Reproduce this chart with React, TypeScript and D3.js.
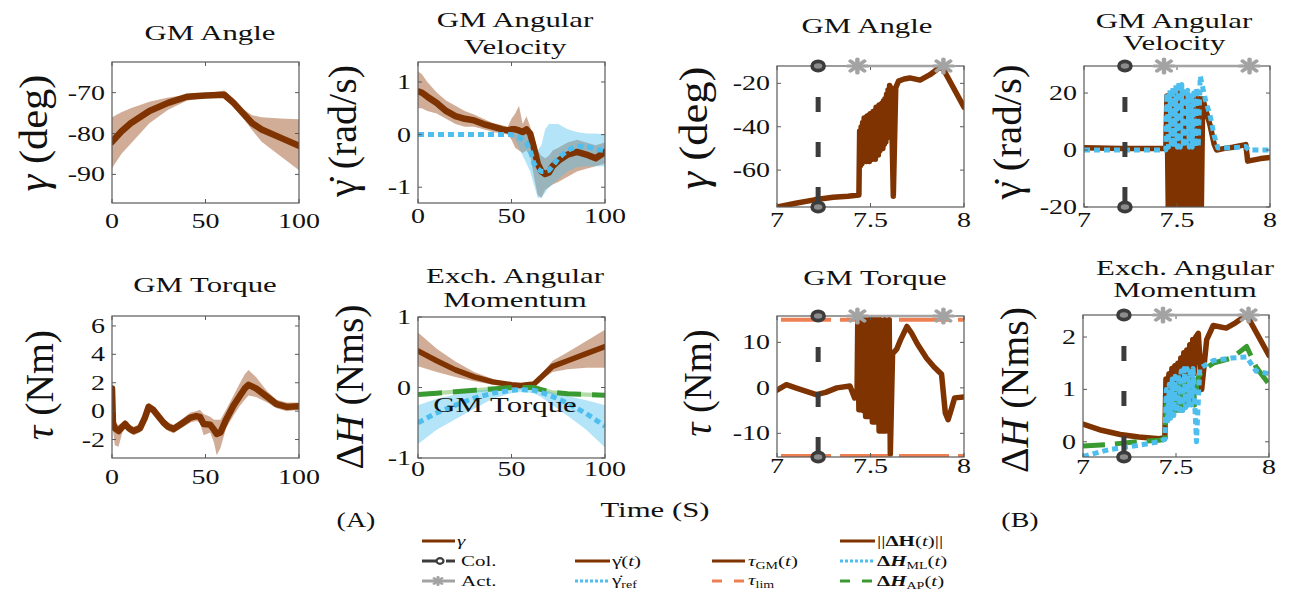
import React from 'react';
import * as d3 from 'd3';

const FONT = '"Liberation Serif", "Times New Roman", serif';
const SX = 1.4; // the figure is stretched horizontally
const BROWN = '#7f3300';
const BAND_BROWN = '#9a4a18';
const BLUE = '#4dbeee';
const GREEN = '#3a9a32';
const PALE_GREEN = '#b3dca6';
const ORANGE = '#ee7f52';
const DARK = '#3c3c3c';
const GRAY = '#a3a3a3';
const GDOT = 'γ\u0307';

// ---------- (A) normalised cycle, 0..100 % ----------
const angX = [0, 5, 10, 20, 30, 40, 50, 60, 65, 70, 75, 80, 90, 100];
const angMean = [-82, -79.5, -77.5, -74.5, -72.5, -71, -70.7, -70.5, -72.5, -75, -77.5, -79, -81, -83];
const angHi = [-76, -74.8, -73.8, -72.2, -71.2, -70.5, -70.2, -69.5, -71.5, -74, -75.5, -76, -76.3, -76.5];
const angLo = [-88.5, -85, -82.5, -77.5, -74.2, -72, -71.2, -71.3, -73.5, -76.2, -79.2, -82, -85.5, -89];

const velX = [0, 2, 5, 10, 15, 20, 25, 30, 35, 40, 45, 48, 50, 52, 54, 56, 58, 60, 62, 64, 66, 68, 70, 72, 75, 80, 85, 90, 95, 100];
const velMean = [0.82, 0.8, 0.72, 0.6, 0.45, 0.35, 0.3, 0.27, 0.2, 0.15, 0.1, 0.08, 0.1, 0.1, 0.08, 0.05, 0.1, 0.02, -0.25, -0.55, -0.7, -0.75, -0.72, -0.6, -0.5, -0.38, -0.33, -0.38, -0.45, -0.33];
const velHi = [1.2, 1.15, 1.0, 0.8, 0.65, 0.55, 0.45, 0.38, 0.3, 0.22, 0.18, 0.15, 0.3, 0.4, 0.55, 0.2, 0.35, 0.15, -0.1, -0.3, -0.4, -0.45, -0.4, -0.3, -0.25, -0.15, -0.1, -0.15, -0.2, -0.15];
const velLo = [0.5, 0.5, 0.45, 0.4, 0.3, 0.2, 0.15, 0.15, 0.1, 0.05, 0.02, 0, -0.1, -0.25, -0.3, -0.35, -0.3, -0.4, -0.8, -1.15, -1.2, -1.05, -1.0, -0.95, -0.9, -0.8, -0.7, -0.65, -0.6, -0.55];
const refVel = [0, 0, 0, 0, 0, 0, 0, 0, 0, 0, 0, 0, 0, -0.02, -0.05, -0.1, -0.15, -0.3, -0.55, -0.65, -0.7, -0.7, -0.68, -0.6, -0.45, -0.3, -0.22, -0.22, -0.28, -0.3];
const refHi = [0, 0, 0, 0, 0, 0, 0, 0, 0, 0, 0, 0, 0, 0, 0.05, 0.05, 0, -0.1, -0.25, -0.3, -0.2, 0.1, 0.2, 0.2, 0.2, 0.1, 0.05, 0.02, 0.02, 0];
const refLo = [0, 0, 0, 0, 0, 0, 0, 0, 0, 0, 0, 0, 0, -0.1, -0.25, -0.4, -0.55, -0.7, -0.95, -1.2, -1.2, -1.1, -1.0, -0.95, -0.85, -0.7, -0.62, -0.6, -0.6, -0.6];

const torX = [0, 0.5, 1.5, 3.5, 5.5, 7, 9, 11.5, 15, 17.5, 19.6, 22, 25, 27.5, 30, 33, 37, 42, 45, 47, 49, 52.5, 54.5, 56, 58, 61, 65, 68.5, 71, 73, 77, 80, 83, 88, 93.5, 100];
const torMean = [1.6, -0.8, -1.2, -1.4, -1.1, -0.9, -1.2, -1.4, -1.2, -0.5, 0.3, 0.1, -0.4, -0.8, -1.1, -1.25, -0.9, -0.45, -0.35, -0.4, -0.9, -0.95, -1.3, -1.6, -1.5, -0.6, 0.4, 1.1, 1.6, 1.85, 1.6, 1.3, 1.0, 0.5, 0.3, 0.35];
const torHi = [1.8, -0.5, -0.8, -1.0, -0.8, -0.6, -0.9, -1.1, -0.9, -0.2, 0.6, 0.4, -0.1, -0.5, -0.8, -0.95, -0.6, -0.1, 0.0, 0.1, -0.2, -0.4, -0.6, -0.6, -0.6, 0.1, 1.1, 2.0, 2.6, 2.9, 2.4, 1.9, 1.4, 0.8, 0.6, 0.6];
const torLo = [1.4, -1.3, -2.4, -2.5, -1.5, -1.2, -1.5, -1.7, -1.5, -0.8, 0.0, -0.2, -0.7, -1.1, -1.4, -1.55, -1.2, -0.8, -0.7, -0.8, -1.7, -1.5, -2.2, -3.1, -2.6, -1.2, -0.3, 0.4, 0.8, 1.1, 1.0, 0.8, 0.6, 0.2, 0.0, 0.1];

const hX = [0, 10, 20, 30, 40, 50, 55, 62, 66, 72, 80, 90, 100];
const hMean = [0.52, 0.38, 0.25, 0.15, 0.08, 0.04, 0.03, 0.05, 0.15, 0.3, 0.38, 0.48, 0.58];
const hHi = [0.78, 0.55, 0.37, 0.22, 0.12, 0.06, 0.05, 0.07, 0.19, 0.38, 0.5, 0.66, 0.82];
const hLo = [0.3, 0.22, 0.15, 0.09, 0.04, 0.02, 0.01, 0.03, 0.11, 0.22, 0.26, 0.28, 0.28];
const hAP = [-0.1, -0.08, -0.06, -0.04, -0.02, 0, 0, 0, -0.03, -0.07, -0.09, -0.1, -0.11];
const hAPHi = [-0.07, -0.05, -0.03, -0.01, 0.01, 0.03, 0.03, 0.03, 0, -0.04, -0.06, -0.07, -0.08];
const hAPLo = [-0.13, -0.11, -0.09, -0.07, -0.05, -0.03, -0.03, -0.03, -0.06, -0.1, -0.12, -0.13, -0.14];
const hML = [-0.5, -0.36, -0.25, -0.15, -0.08, -0.04, -0.03, -0.04, -0.07, -0.13, -0.22, -0.37, -0.55];
const hMLHi = [-0.25, -0.16, -0.1, -0.05, -0.02, 0, 0, 0, -0.03, -0.07, -0.12, -0.18, -0.25];
const hMLLo = [-0.8, -0.6, -0.45, -0.3, -0.16, -0.08, -0.06, -0.08, -0.14, -0.25, -0.4, -0.6, -0.85];

// ---------- (B) one trial, time in s ----------
const colT = 7.22;
const actT = [7.43, 7.89];
const tauLim = [-15, 15];

const bAngT = [7.0, 7.1, 7.2, 7.3, 7.38,
  7.438, 7.442, 7.446, 7.45, 7.454, 7.458, 7.462, 7.466, 7.47, 7.474, 7.478, 7.482, 7.486, 7.49, 7.494,
  7.498, 7.502, 7.506, 7.51, 7.514, 7.518, 7.522, 7.526, 7.53, 7.534, 7.538, 7.542, 7.546, 7.55, 7.554,
  7.558, 7.562, 7.566, 7.57, 7.574, 7.578, 7.582, 7.586, 7.59, 7.594, 7.598, 7.602, 7.606, 7.61,
  7.622, 7.635, 7.65, 7.68, 7.71, 7.765, 7.818, 7.88, 8.0];
const bAngV = [-77, -75.3, -73.7, -72.5, -72,
  -71.5, -42, -58, -40, -57, -38, -56, -36, -55, -37, -56, -35, -55, -38, -56,
  -34, -54, -36, -55, -33, -53, -35, -55, -31, -52, -34, -53, -30, -51, -33,
  -50, -29, -50, -28, -48, -27, -47, -25, -45, -23, -42, -21, -40, -22,
  -72, -22, -19, -18, -17.5, -18.5, -16, -12, -31];

const bVelT = [7.0, 7.2, 7.35, 7.44, 7.446, 7.454, 7.462, 7.47, 7.478, 7.486, 7.494, 7.502, 7.51, 7.518, 7.526, 7.534, 7.542, 7.55, 7.558, 7.566, 7.574, 7.582, 7.59, 7.598, 7.606, 7.614, 7.622, 7.63, 7.638, 7.655, 7.677, 7.7, 7.713, 7.75, 7.8, 7.87, 7.88, 7.95, 8.0];
const bVelV = [0.8, 0.5, 0.5, 0.6, 19, -25, 19, -25, 19.5, -25, 19.5, -25, 20, -25, 19, -25, 18.5, -25, 18, -25, 18, -25, 17, -25, 18, -25, 18, -25, 18, 14, 8.9, 2, 0, 0.5, 1, 1.9, -3.9, -3, -2.6];
const bRefT = [7.0, 7.44, 7.446, 7.454, 7.462, 7.47, 7.478, 7.486, 7.494, 7.502, 7.51, 7.518, 7.526, 7.534, 7.542, 7.55, 7.558, 7.566, 7.574, 7.582, 7.59, 7.598, 7.606, 7.614, 7.625, 7.655, 7.677, 7.7, 7.72, 7.8, 7.87, 7.885, 8.0];
const bRefV = [0, 0, 20, 1, 21, 1, 22, 1, 23, 1, 24, 1, 23, 1, 22, 1, 21, 1, 20, 1, 20, 1, 22, 1, 26, 17, 12.4, 5, 0.7, 0.8, 1.2, 0, 0];

const bTorT = [7.0, 7.05, 7.1, 7.21, 7.26, 7.32, 7.39, 7.415, 7.428, 7.432, 7.438, 7.444, 7.45, 7.456, 7.462, 7.468, 7.474, 7.48, 7.486, 7.492, 7.498, 7.504, 7.51, 7.516, 7.522, 7.528, 7.534, 7.54, 7.546, 7.552, 7.558, 7.564, 7.57, 7.576, 7.582, 7.588, 7.594, 7.6, 7.606, 7.618, 7.64, 7.66, 7.695, 7.72, 7.75, 7.8, 7.84, 7.88, 7.9, 7.915, 7.93, 7.95, 8.0];
const bTorV = [-0.5, 0.7, 0, -1.5, -1.0, 0, 0.4, -2.2, -1.5, 15, -4.8, 15, -4.8, 15, -5, 15, -6.3, 15, -6.3, 15, -6.3, 15, -7.5, 15, -7.5, 15, -7.5, 15, -9.5, 15, -9.5, 13, -9.5, 15, -9.5, 13, -5, 15, -14.5, 7.5, 8.5, 10.5, 13.5, 12, 9.7, 6.5, 4.6, 3, -5.5, -7, -5, -2.2, -2];

const bHT = [7.0, 7.1, 7.2, 7.3, 7.41, 7.44, 7.446, 7.454, 7.462, 7.47, 7.478, 7.486, 7.494, 7.502, 7.51, 7.518, 7.526, 7.534, 7.542, 7.55, 7.558, 7.566, 7.574, 7.582, 7.59, 7.598, 7.606, 7.62, 7.638, 7.665, 7.7, 7.77, 7.82, 7.88, 8.0];
const bHV = [0.34, 0.22, 0.14, 0.09, 0.06, 0.08, 1.2, 0.85, 1.3, 0.9, 1.4, 0.95, 1.45, 1.0, 1.5, 1.05, 1.6, 1.1, 1.7, 1.15, 1.75, 1.2, 1.85, 1.25, 1.95, 1.3, 2.0, 2.07, 1.0, 1.95, 2.22, 2.17, 2.27, 2.42, 1.65];
const bApT = [7.0, 7.14, 7.29, 7.41, 7.44, 7.448, 7.456, 7.464, 7.472, 7.48, 7.488, 7.496, 7.504, 7.512, 7.52, 7.528, 7.536, 7.544, 7.552, 7.56, 7.568, 7.576, 7.584, 7.592, 7.6, 7.615, 7.64, 7.7, 7.8, 7.88, 7.93, 8.0];
const bApV = [-0.08, -0.05, 0, 0.03, 0.05, 0.8, 0.5, 0.9, 0.55, 1.0, 0.55, 1.05, 0.6, 1.1, 0.6, 1.15, 0.6, 1.2, 0.62, 1.2, 0.65, 1.25, 0.65, 1.25, 0.7, 1.2, 1.35, 1.5, 1.6, 1.82, 1.43, 1.1];
const bMlT = [7.0, 7.14, 7.29, 7.41, 7.44, 7.448, 7.456, 7.464, 7.472, 7.48, 7.488, 7.496, 7.504, 7.512, 7.52, 7.528, 7.536, 7.544, 7.552, 7.56, 7.568, 7.576, 7.584, 7.592, 7.61, 7.628, 7.65, 7.7, 7.8, 7.88, 7.93, 8.0];
const bMlV = [-0.28, -0.15, -0.07, 0, 0.05, 1.0, 0.4, 1.1, 0.45, 1.2, 0.5, 1.25, 0.55, 1.3, 0.6, 1.35, 0.6, 1.4, 0.65, 1.4, 0.7, 1.4, 0.7, 1.4, 0.0, 1.4, 1.45, 1.55, 1.6, 1.62, 1.35, 1.3];

const pctTicks = [0, 50, 100];
const timeTicks = [7, 7.5, 8];

function Txt({ x, y, size, anchor = 'middle', rotate = false, len, weight, children }: any) {
  const t = `translate(${x},${y}) scale(${SX},1)` + (rotate ? ' rotate(-90)' : '');
  return (
    <text transform={t} textAnchor={anchor} fill="#111" dy={rotate ? '0.33em' : undefined}
      style={{ fontFamily: FONT, fontSize: size, fontWeight: weight }}
      textLength={len} lengthAdjust={len ? 'spacingAndGlyphs' : undefined}>
      {children}
    </text>
  );
}

function Asterisk({ cx, cy, r = 7, w = 3.2 }: any) {
  return (
    <g transform={`translate(${cx},${cy}) scale(${SX},1)`} stroke={GRAY} strokeWidth={w} strokeLinecap="round">
      {[0, 45, 90, 135].map((a) => {
        const rad = (a * Math.PI) / 180;
        return <line key={a} x1={-r * Math.cos(rad)} y1={-r * Math.sin(rad)} x2={r * Math.cos(rad)} y2={r * Math.sin(rad)} />;
      })}
    </g>
  );
}

function Panel({ p }: any) {
  const [x0, y0, x1, y1] = p.box;
  const x = d3.scaleLinear().domain(p.xDom).range([x0, x1]);
  const y = d3.scaleLinear().domain(p.yDom).range([y1, y0]);
  const line = d3.line<any>().x((d) => x(d[0])).y((d) => y(d[1]));
  const area = d3.area<any>().x((d) => x(d[0])).y0((d) => y(d[1])).y1((d) => y(d[2]));
  const clip = `clip-${p.id}`;
  const tk = 4;
  return (
    <g>
      <defs>
        <clipPath id={clip}>
          <rect x={x0} y={y0} width={x1 - x0} height={y1 - y0} />
        </clipPath>
      </defs>
      <g clipPath={`url(#${clip})`}>
        {p.bands.map((b: any, i: number) => (
          <path key={i} d={area(d3.zip(b.x, b.lo, b.hi)) || ''} fill={b.fill} fillOpacity={b.opacity} stroke="none" />
        ))}
        {(p.hlines || []).map((v: number, i: number) => (
          <line key={i} x1={x0} x2={x1} y1={y(v)} y2={y(v)} stroke={ORANGE} strokeWidth={4} strokeDasharray="50,9" strokeDashoffset={-4} />
        ))}
        {p.lines.map((s: any, i: number) => (
          <path key={i} d={line(d3.zip(s.x, s.y)) || ''} fill="none" stroke={s.color} strokeWidth={s.width}
            strokeDasharray={s.dash} strokeLinejoin="round" strokeLinecap={s.dash ? 'butt' : 'round'} />
        ))}
      </g>
      <rect x={x0} y={y0} width={x1 - x0} height={y1 - y0} fill="none" stroke="#5a5a5a" strokeWidth={1.2} />
      {p.xTicks.map((t: number) => (
        <g key={'x' + t} stroke="#5a5a5a" strokeWidth={1}>
          <line x1={x(t)} x2={x(t)} y1={y1} y2={y1 - tk} />
          <line x1={x(t)} x2={x(t)} y1={y0} y2={y0 + tk} />
        </g>
      ))}
      {p.yTicks.map((t: number) => (
        <g key={'y' + t} stroke="#5a5a5a" strokeWidth={1}>
          <line x1={x0} x2={x0 + tk} y1={y(t)} y2={y(t)} />
          <line x1={x1} x2={x1 - tk} y1={y(t)} y2={y(t)} />
        </g>
      ))}
      {p.xTicks.map((t: number) => (
        <Txt key={'xl' + t} x={x(t)} y={p.xLabelY} size={20}>{String(t)}</Txt>
      ))}
      {p.yTicks.map((t: number) => (
        <Txt key={'yl' + t} x={x0 - 7} y={y(t) + 7} size={20} anchor="end">{String(t)}</Txt>
      ))}
      {p.events && (
        <g>
          <line x1={x(colT)} x2={x(colT)} y1={y0} y2={y1} stroke={DARK} strokeWidth={5}
            strokeDasharray="15,30" strokeDashoffset={14} />
          {[y0, y1].map((cy) => (
            <ellipse key={cy} cx={x(colT)} cy={cy} rx={6} ry={4.6} fill="#8c8c8c" stroke={DARK} strokeWidth={3.6} />
          ))}
          <line x1={x(actT[0])} x2={x(actT[1])} y1={y0} y2={y0} stroke={GRAY} strokeWidth={2.5} />
          {actT.map((t) => <Asterisk key={t} cx={x(t)} cy={y0} />)}
        </g>
      )}
      {p.title.map((s: string, i: number) => (
        <Txt key={s} x={p.titleX} y={p.titleY[i]} size={22}>{s}</Txt>
      ))}
      <Txt x={p.yl[0]} y={p.yl[1]} size={29} rotate len={p.yl[2]}>{p.ylabel}</Txt>
    </g>
  );
}

const brownBand = (x: number[], lo: number[], hi: number[]) => ({ x, lo, hi, fill: BAND_BROWN, opacity: 0.45 });
const blueBand = (x: number[], lo: number[], hi: number[]) => ({ x, lo, hi, fill: BLUE, opacity: 0.42 });

const it = (s: string) => <tspan fontStyle="italic">{s}</tspan>;

export default function App() {
  const panels = [
    {
      id: 'a1', box: [112, 62, 299, 203], xDom: [0, 100], yDom: [-97, -62.5], xTicks: pctTicks, yTicks: [-90, -80, -70],
      xLabelY: 228, bands: [brownBand(angX, angLo, angHi)],
      lines: [{ x: angX, y: angMean, color: BROWN, width: 6.5 }],
      title: ['GM Angle'], titleX: 210, titleY: [40],
      ylabel: <>{it('γ')}{' (deg)'}</>, yl: [34, 133, 117],
    },
    {
      id: 'a2', box: [418, 62, 605, 203], xDom: [0, 100], yDom: [-1.3, 1.38], xTicks: pctTicks, yTicks: [-1, 0, 1],
      xLabelY: 223, bands: [brownBand(velX, velLo, velHi), blueBand(velX, refLo, refHi)],
      lines: [
        { x: velX, y: velMean, color: BROWN, width: 6.5 },
        { x: velX, y: refVel, color: BLUE, width: 5, dash: '6,4' },
      ],
      title: ['GM Angular', 'Velocity'], titleX: 515, titleY: [27, 54],
      ylabel: <>{GDOT}{' (rad/s)'}</>, yl: [343, 131, 132],
    },
    {
      id: 'b1', box: [777, 66, 964, 207], xDom: [7, 8], yDom: [-77, -12], xTicks: timeTicks, yTicks: [-60, -40, -20],
      xLabelY: 227, bands: [], events: true,
      lines: [{ x: bAngT, y: bAngV, color: BROWN, width: 5.5 }],
      title: ['GM Angle'], titleX: 867, titleY: [33],
      ylabel: <>{it('γ')}{' (deg)'}</>, yl: [694, 128, 123],
    },
    {
      id: 'b2', box: [1084, 66, 1270, 207], xDom: [7, 8], yDom: [-20, 29.5], xTicks: timeTicks, yTicks: [-20, 0, 20],
      xLabelY: 227, bands: [], events: true,
      lines: [
        { x: bVelT, y: bVelV, color: BROWN, width: 5.5 },
        { x: bRefT, y: bRefV, color: BLUE, width: 5, dash: '6,4' },
      ],
      title: ['GM Angular', 'Velocity'], titleX: 1174, titleY: [28, 50],
      ylabel: <>{GDOT}{' (rad/s)'}</>, yl: [1008, 132, 135],
    },
    {
      id: 'a3', box: [112, 316, 299, 458], xDom: [0, 100], yDom: [-3.3, 6.7], xTicks: pctTicks, yTicks: [-2, 0, 2, 4, 6],
      xLabelY: 484, bands: [brownBand(torX, torLo, torHi)],
      lines: [{ x: torX, y: torMean, color: BROWN, width: 6.5 }],
      title: ['GM Torque'], titleX: 205, titleY: [292],
      ylabel: <>{it('τ')}{' (Nm)'}</>, yl: [40, 385, 110],
    },
    {
      id: 'a4', box: [418, 317, 605, 458], xDom: [0, 100], yDom: [-1, 1], xTicks: pctTicks, yTicks: [-1, 0, 1],
      xLabelY: 476,
      bands: [
        brownBand(hX, hLo, hHi),
        { x: hX, lo: hAPLo, hi: hAPHi, fill: PALE_GREEN, opacity: 1 },
        blueBand(hX, hMLLo, hMLHi),
      ],
      lines: [
        { x: hX, y: hMean, color: BROWN, width: 5.5 },
        { x: hX, y: hAP, color: GREEN, width: 5, dash: '24,11' },
        { x: hX, y: hML, color: BLUE, width: 5, dash: '6,4' },
      ],
      title: ['Exch. Angular', 'Momentum'], titleX: 515, titleY: [283, 307],
      ylabel: <>{'Δ'}{it('H')}{' (Nms)'}</>, yl: [350, 387, 165],
    },
    {
      id: 'b3', box: [777, 316, 964, 457], xDom: [7, 8], yDom: [-15.2, 15.8], xTicks: timeTicks, yTicks: [-10, 0, 10],
      xLabelY: 473, bands: [], events: true, hlines: tauLim,
      lines: [{ x: bTorT, y: bTorV, color: BROWN, width: 5.5 }],
      title: ['GM Torque'], titleX: 875, titleY: [285],
      ylabel: <>{it('τ')}{' (Nm)'}</>, yl: [698, 383, 107],
    },
    {
      id: 'b4', box: [1083, 315, 1269, 457], xDom: [7, 8], yDom: [-0.29, 2.42], xTicks: timeTicks, yTicks: [0, 1, 2],
      xLabelY: 474, bands: [], events: true,
      lines: [
        { x: bHT, y: bHV, color: BROWN, width: 5.5 },
        { x: bApT, y: bApV, color: GREEN, width: 5, dash: '22,10' },
        { x: bMlT, y: bMlV, color: BLUE, width: 5, dash: '6,4' },
      ],
      title: ['Exch. Angular', 'Momentum'], titleX: 1185, titleY: [275, 297],
      ylabel: <>{'Δ'}{it('H')}{' (Nms)'}</>, yl: [1015, 390, 166],
    },
  ];

  const rows = [541, 561, 581];
  const sub = (s: string) => <tspan dy={3} fontSize={10}>{s}</tspan>;
  const unsub = (s: string) => <tspan dy={-3}>{s}</tspan>;
  const LegLine = ({ x1, x2, r, color, dash, w = 3 }: any) => (
    <line x1={x1} x2={x2} y1={r} y2={r} stroke={color} strokeWidth={w} strokeDasharray={dash} />
  );

  return (
    <svg width={1300} height={592} style={{ position: 'absolute', left: 0, top: 0, background: '#fff' }}>
      <rect width={1300} height={592} fill="#fff" />
      {panels.map((p) => <Panel key={p.id} p={p} />)}

      <Txt x={505} y={412} size={22}>GM Torque</Txt>
      <Txt x={655} y={517} size={22}>Time (S)</Txt>
      <Txt x={356} y={527} size={20}>(A)</Txt>
      <Txt x={1020} y={527} size={20}>(B)</Txt>

      {/* legend */}
      <LegLine x1={422} x2={455} r={rows[0]} color={BROWN} />
      <Txt x={457} y={rows[0] + 5} size={15} anchor="start">{it('γ')}</Txt>

      <LegLine x1={422} x2={436} r={rows[1]} color={DARK} />
      <LegLine x1={446} x2={455} r={rows[1]} color={DARK} />
      <ellipse cx={440} cy={rows[1]} rx={3.5} ry={2.8} fill="#fff" stroke={DARK} strokeWidth={2.2} />
      <Txt x={461} y={rows[1] + 5} size={15} anchor="start">Col.</Txt>

      <LegLine x1={422} x2={455} r={rows[2]} color={GRAY} />
      <Asterisk cx={438} cy={rows[2]} r={4} w={2.2} />
      <Txt x={461} y={rows[2] + 5} size={15} anchor="start">Act.</Txt>

      <LegLine x1={575} x2={610} r={rows[1]} color={BROWN} />
      <Txt x={612} y={rows[1] + 5} size={15} anchor="start">{GDOT}{'('}{it('t')}{')'}</Txt>
      <LegLine x1={575} x2={610} r={rows[2]} color={BLUE} dash="3,2" />
      <Txt x={612} y={rows[2] + 4} size={15} anchor="start">{GDOT}{sub('ref')}</Txt>

      <LegLine x1={712} x2={745} r={rows[1]} color={BROWN} />
      <Txt x={748} y={rows[1] + 5} size={15} anchor="start">{it('τ')}{sub('GM')}{unsub('(')}{it('t')}{')'}</Txt>
      <LegLine x1={712} x2={745} r={rows[2]} color={ORANGE} dash="10,12" />
      <Txt x={748} y={rows[2] + 4} size={15} anchor="start">{it('τ')}{sub('lim')}</Txt>

      <LegLine x1={840} x2={875} r={rows[0]} color={BROWN} />
      <Txt x={877} y={rows[0] + 5} size={15} anchor="start">
        {'||'}<tspan fontWeight="bold">{'ΔH'}</tspan>{'('}{it('t')}{')||'}
      </Txt>
      <LegLine x1={840} x2={875} r={rows[1]} color={BLUE} dash="3,2" />
      <Txt x={877} y={rows[1] + 5} size={15} anchor="start">
        <tspan fontWeight="bold">{'Δ'}</tspan><tspan fontWeight="bold" fontStyle="italic">H</tspan>{sub('ML')}{unsub('(')}{it('t')}{')'}
      </Txt>
      <LegLine x1={840} x2={875} r={rows[2]} color={GREEN} dash="10,12" />
      <Txt x={877} y={rows[2] + 5} size={15} anchor="start">
        <tspan fontWeight="bold">{'Δ'}</tspan><tspan fontWeight="bold" fontStyle="italic">H</tspan>{sub('AP')}{unsub('(')}{it('t')}{')'}
      </Txt>
    </svg>
  );
}
